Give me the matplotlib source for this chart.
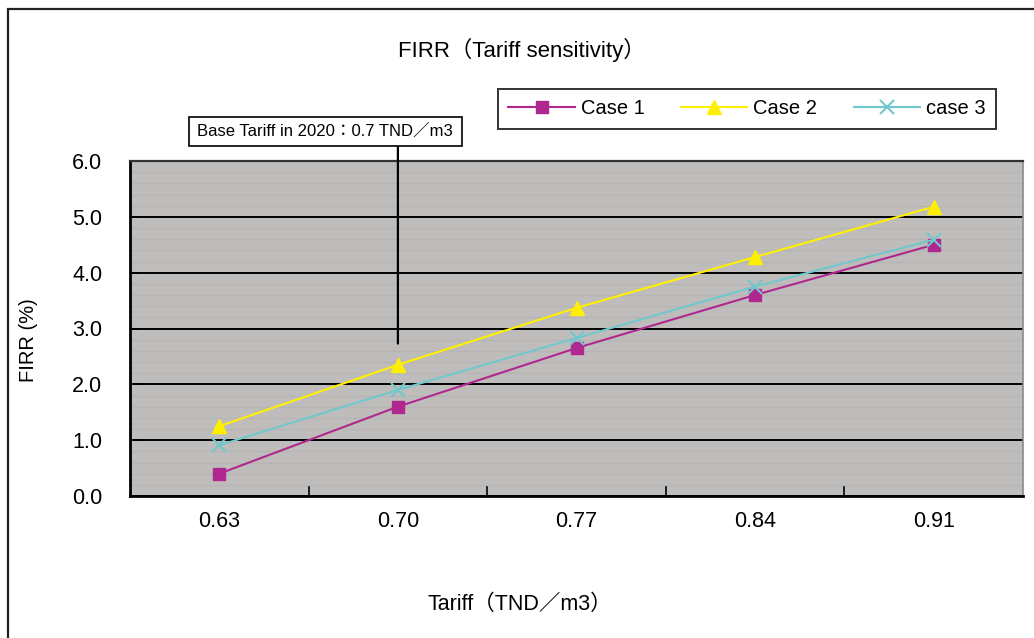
import matplotlib
matplotlib.use("Agg")
import matplotlib.pyplot as plt
from matplotlib.patches import Rectangle
from matplotlib.ticker import MultipleLocator, FixedLocator, NullFormatter, FormatStrFormatter

plt.rcParams['font.family'] = ['Liberation Sans', 'Noto Sans CJK JP', 'DejaVu Sans']

# Data
tariffs = ["0.63", "0.70", "0.77", "0.84", "0.91"]
case1 = [0.4, 1.6, 2.65, 3.6, 4.5]
case2 = [1.25, 2.35, 3.37, 4.28, 5.18]
case3 = [0.91, 1.9, 2.83, 3.75, 4.59]
series_names = ["Case 1", "Case 2", "case 3"]
base_index = 1          # 0.70 TND/m3 category
base_pointer_end = 2.73  # where the pointer line stops

W, H = 1034, 638
fig = plt.figure(figsize=(W / 100, H / 100), dpi=100)
fig.patch.set_facecolor("white")

# Outer chart frame (runs past the right and bottom edges)
fig.patches.append(Rectangle((8 / W, -0.2), 1.2, 1 - 9 / H + 0.2,
                             transform=fig.transFigure, fill=False,
                             edgecolor="#222222", linewidth=1.6, zorder=0))

ax = fig.add_axes([130 / W, 1 - 496 / H, (1023 - 130) / W, (496 - 161) / H])
ax.set_facecolor("#BFBDBB")

x = list(range(len(tariffs)))
ax.plot(x, case1, color="#B0278F", lw=1.5, marker="s", ms=9, mec="#B0278F",
        label=series_names[0], zorder=5)
ax.plot(x, case2, color="#FFF000", lw=1.5, marker="^", ms=10, mec="#FFF000",
        label=series_names[1], zorder=5)
ax.plot(x, case3, color="#70C8CC", lw=1.5, marker="x", ms=10, mew=1.5,
        label=series_names[2], zorder=5)

ax.set_xlim(-0.5, len(tariffs) - 0.5)
ax.set_ylim(0, 6)

# Y axis
ax.yaxis.set_major_locator(MultipleLocator(1.0))
ax.yaxis.set_minor_locator(MultipleLocator(0.2))
ax.yaxis.set_major_formatter(FormatStrFormatter("%.1f"))
ax.grid(which="major", axis="y", color="black", lw=1.4, zorder=1)
ax.grid(which="minor", axis="y", color="#B7B5B3", lw=1.0, zorder=1)
ax.tick_params(axis="y", which="major", direction="in", length=7, width=1.2,
               labelsize=15.5, pad=20)
ax.tick_params(axis="y", which="minor", length=0)

# X axis: ticks between categories, labels at category centres
ax.xaxis.set_major_locator(FixedLocator([i + 0.5 for i in range(len(tariffs) - 1)]))
ax.xaxis.set_major_formatter(NullFormatter())
ax.xaxis.set_minor_locator(FixedLocator(x))
ax.set_xticklabels(tariffs, minor=True)
ax.tick_params(axis="x", which="major", direction="in", length=8, width=1.2)
ax.tick_params(axis="x", which="minor", length=0, labelsize=15.5, pad=11)

for side in ["left", "bottom"]:
    ax.spines[side].set_color("black")
    ax.spines[side].set_linewidth(2.0)
ax.spines["top"].set_color("#333333")
ax.spines["top"].set_linewidth(1.6)
ax.spines["right"].set_color("#8A8A8A")
ax.spines["right"].set_linewidth(1.2)

# Texts
fig.text(522 / W, 1 - 50 / H, "FIRR（Tariff sensitivity）", ha="center", va="center",
         fontsize=16)
fig.text(520 / W, 1 - 604 / H, "Tariff（TND／m3）", ha="center", va="center",
         fontsize=15.5)
fig.text(29 / W, 1 - 340 / H, "FIRR (%)", ha="center", va="center",
         rotation=90, fontsize=14.5)

# Base tariff annotation
fig.patches.append(Rectangle((189 / W, 1 - 146 / H), (462 - 189) / W, (146 - 117) / H,
                             transform=fig.transFigure, facecolor="white",
                             edgecolor="black", linewidth=1.2, zorder=3))
fig.text(325 / W, 1 - 131 / H, "Base Tariff in 2020：0.7 TND／m3", ha="center",
         va="center", fontsize=12, zorder=4)
ax.annotate("", xy=(base_index, base_pointer_end), xycoords="data",
            xytext=(base_index, 1 - 146 / H), textcoords=("data", "figure fraction"),
            arrowprops=dict(arrowstyle="-", color="black", lw=1.6,
                            shrinkA=0, shrinkB=0),
            annotation_clip=False, zorder=6)

# Legend
leg = fig.legend(loc="center", bbox_to_anchor=(747 / W, 1 - 109 / H), ncol=3,
                 fontsize=14.5, frameon=True, fancybox=False, handlelength=3.3,
                 columnspacing=1.8, handletextpad=0.3, borderpad=0.5,
                 borderaxespad=0, edgecolor="black")
leg.get_frame().set_linewidth(1.4)

fig.savefig("out.png", dpi=100, facecolor="white")
